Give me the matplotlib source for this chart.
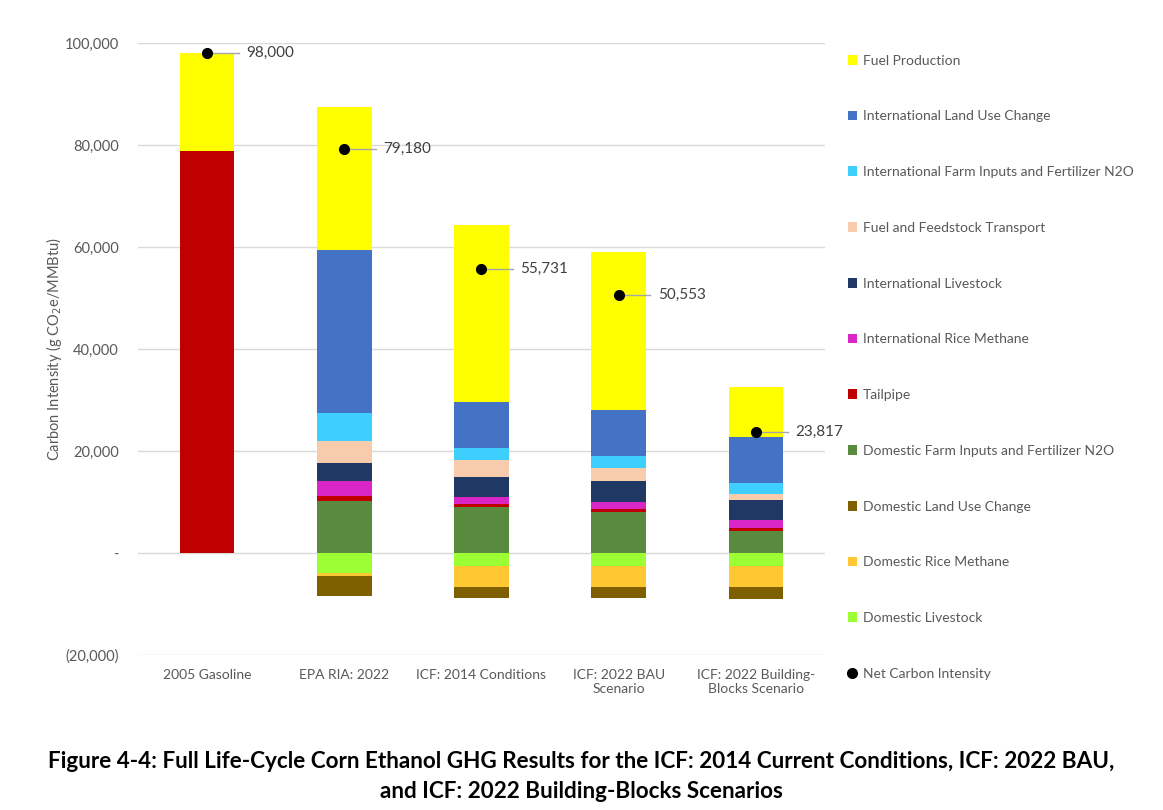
import matplotlib.pyplot as plt
import numpy as np
from matplotlib.lines import Line2D
from matplotlib.patches import Patch
from matplotlib.ticker import FuncFormatter

plt.rcParams["font.family"] = ["Lato", "DejaVu Sans"]

scenarios = [
    "2005 Gasoline",
    "EPA RIA: 2022",
    "ICF: 2014 Conditions",
    "ICF: 2022 BAU\nScenario",
    "ICF: 2022 Building-\nBlocks Scenario",
]

# positive components, stacked bottom -> top
dom_farm = [0, 10250, 9020, 8040, 4310]
tailpipe = [78900, 930, 590, 590, 590]
intl_rice = [0, 2940, 1370, 1430, 1570]
intl_livestock = [0, 3470, 3920, 4060, 3920]
transport = [0, 4310, 3390, 2610, 1180]
intl_farm = [0, 5550, 2290, 2240, 2220]
intl_luc = [0, 31900, 9020, 9020, 9020]
fuel_prod = [19100, 28100, 34700, 31030, 9800]

# negative components, stacked 0 -> down
dom_livestock = [0, -3920, -2550, -2550, -2550]
dom_rice = [0, -450, -3980, -3980, -3980]
dom_luc = [0, -4060, -2240, -2240, -2510]

net_ci = [98000, 79180, 55731, 50553, 23817]

pos_series = [
    ("Domestic Farm Inputs and Fertilizer N2O", dom_farm, "#5a8a3e"),
    ("Tailpipe", tailpipe, "#c00000"),
    ("International Rice Methane", intl_rice, "#d926c6"),
    ("International Livestock", intl_livestock, "#203864"),
    ("Fuel and Feedstock Transport", transport, "#f8cbad"),
    ("International Farm Inputs and Fertilizer N2O", intl_farm, "#3fcfff"),
    ("International Land Use Change", intl_luc, "#4472c4"),
    ("Fuel Production", fuel_prod, "#ffff00"),
]
neg_series = [
    ("Domestic Livestock", dom_livestock, "#9bff33"),
    ("Domestic Rice Methane", dom_rice, "#ffc832"),
    ("Domestic Land Use Change", dom_luc, "#7f6000"),
]

fig = plt.figure(figsize=(11.63, 8.10), dpi=100)
ax = fig.add_axes([0.119, 0.191, 0.590, 0.756])

x = np.arange(len(scenarios))
width = 0.4

bottom = np.zeros(len(x))
for name, vals, color in pos_series:
    v = np.array(vals, dtype=float)
    ax.bar(x, v, width, bottom=bottom, color=color, zorder=2)
    bottom += v

bottom = np.zeros(len(x))
for name, vals, color in neg_series:
    v = np.array(vals, dtype=float)
    ax.bar(x, v, width, bottom=bottom, color=color, zorder=2)
    bottom += v

ax.plot(x, net_ci, "o", color="black", markersize=7, zorder=4)
for xi, val in zip(x, net_ci):
    ax.plot([xi, xi + 0.23], [val, val], color="#a6a6a6", linewidth=1, zorder=3)
    ax.text(xi + 0.285, val, f"{val:,}", va="center", ha="left", fontsize=11, color="#404040")

ax.set_xlim(-0.5, 4.5)
ax.set_ylim(-20000, 100000)
ax.set_yticks(np.arange(-20000, 100001, 20000))


def fmt(v, _):
    if v == 0:
        return "-"
    if v < 0:
        return f"({abs(v):,.0f})"
    return f"{v:,.0f}"


ax.yaxis.set_major_formatter(FuncFormatter(fmt))
ax.set_xticks(x)
ax.set_xticklabels(scenarios, fontsize=10, color="#595959")
ax.tick_params(axis="y", labelsize=10.5, labelcolor="#595959", length=0, pad=14)
ax.tick_params(axis="x", length=0, pad=10)
ax.grid(axis="y", color="#d9d9d9", linewidth=1, zorder=0)
ax.set_axisbelow(True)
for s in ax.spines.values():
    s.set_visible(False)
ax.set_ylabel(r"Carbon Intensity (g CO$_2$e/MMBtu)", fontsize=10.5, color="#595959")
ax.yaxis.set_label_coords(-0.108, 0.5)

handles = [Patch(facecolor=c, label=n) for n, _, c in reversed(pos_series)]
handles += [Patch(facecolor=c, label=n) for n, _, c in neg_series[::-1]]
handles.append(Line2D([], [], marker="o", linestyle="none", color="black", markersize=7,
                      label="Net Carbon Intensity"))
fig.legend(handles=handles, loc="upper left", bbox_to_anchor=(0.718, 0.948), frameon=False,
           fontsize=10, labelcolor="#595959", labelspacing=3.15, handlelength=0.7,
           handleheight=0.7, handletextpad=0.4)

fig.text(0.5, 0.041, "Figure 4-4: Full Life-Cycle Corn Ethanol GHG Results for the ICF: 2014 Current "
         "Conditions, ICF: 2022 BAU,\nand ICF: 2022 Building-Blocks Scenarios",
         ha="center", va="center", fontsize=16.2, fontweight="bold", linespacing=1.55)

fig.savefig("out.png", dpi=100)
